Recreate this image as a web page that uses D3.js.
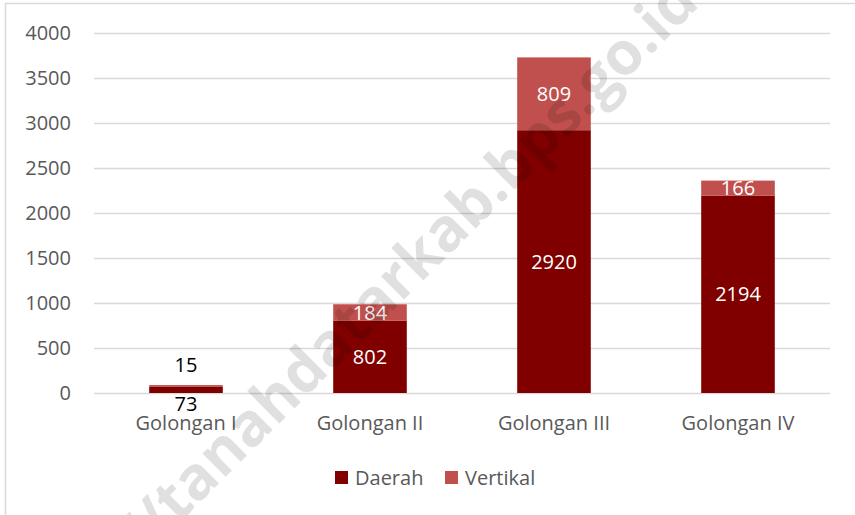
<!DOCTYPE html>
<meta charset="utf-8">
<script src="https://d3js.org/d3.v7.min.js"></script>
<style>
  body { margin: 0; background: #fff; }
  text { font-family: "Open Sans", "Noto Sans", sans-serif; }
</style>
<svg id="chart" width="855" height="515"></svg>
<script>

    // data
    var categories = ["Golongan I", "Golongan II", "Golongan III", "Golongan IV"];
    var daerah = [73, 802, 2920, 2194];
    var vertikal = [15, 184, 809, 166];
    var seriesNames = ["Daerah", "Vertikal"];
    var yTicks = [0, 500, 1000, 1500, 2000, 2500, 3000, 3500, 4000];

    var colors = { Daerah: "#800000", Vertikal: "#c0504d" };

    const svg = d3.select("#chart"),
        width = +svg.attr("width"),
        height = +svg.attr("height");

    // chart border
    svg.append("rect")
        .attr("x", 5.5).attr("y", 3.5)
        .attr("width", 870).attr("height", 530)
        .attr("fill", "#fff")
        .attr("stroke", "#d9d9d9")
        .attr("stroke-width", 1.5);

    const x = d3.scaleBand()
        .domain(categories)
        .range([94, 830])
        .paddingInner(0.6)
        .paddingOuter(0.3);

    const y = d3.scaleLinear()
        .domain([0, 4000])
        .range([393, 33]);

    // gridlines + y labels
    const yAxis = svg.append("g")
        .attr("transform", "translate(94,0)")
        .call(d3.axisLeft(y).tickValues(yTicks).tickFormat(d3.format("d")).tickSize(-736).tickPadding(23));
    yAxis.select(".domain").remove();
    yAxis.selectAll(".tick line").attr("stroke", "#d9d9d9").attr("stroke-width", 1.5);
    yAxis.selectAll(".tick text")
        .attr("fill", "#595959")
        .style("font-size", "20px");

    // x labels
    const xAxis = svg.append("g")
        .attr("transform", "translate(0,393)")
        .call(d3.axisBottom(x).tickSize(0).tickPadding(23));
    xAxis.select(".domain").remove();
    xAxis.selectAll(".tick text")
        .attr("fill", "#595959")
        .style("font-size", "20px");

    const rows = categories.map((c, i) => ({ cat: c, Daerah: daerah[i], Vertikal: vertikal[i] }));
    const stacked = d3.stack().keys(seriesNames)(rows);

    const layers = svg.append("g")
        .selectAll("g")
        .data(stacked)
        .enter().append("g")
            .attr("fill", d => colors[d.key]);

    layers.selectAll("rect")
        .data(d => d)
        .enter().append("rect")
            .attr("x", d => x(d.data.cat))
            .attr("width", x.bandwidth())
            .attr("y", d => y(d[1]))
            .attr("height", d => y(d[0]) - y(d[1]));

    // data labels
    stacked.forEach(function(layer) {
        layer.forEach(function(d) {
            var h = y(d[0]) - y(d[1]);
            var cx = x(d.data.cat) + x.bandwidth() / 2;
            var ty, fill = "#fff";
            if (h < 8) {
                // too thin: label outside the bar
                fill = "#000";
                ty = layer.key === "Daerah" ? y(d[0]) + 11 : y(d[1]) - 20;
            } else {
                ty = (y(d[0]) + y(d[1])) / 2;
            }
            svg.append("text")
                .attr("x", cx)
                .attr("y", ty)
                .attr("dy", "0.35em")
                .attr("text-anchor", "middle")
                .attr("fill", fill)
                .style("font-size", "20px")
                .text(d.data[layer.key]);
        });
    });

    // legend
    var legendX = [335, 445];
    seriesNames.forEach(function(name, i) {
        svg.append("rect")
            .attr("x", legendX[i]).attr("y", 471)
            .attr("width", 13).attr("height", 13)
            .attr("fill", colors[name]);
        svg.append("text")
            .attr("x", legendX[i] + 20)
            .attr("y", 478)
            .attr("dy", "0.35em")
            .attr("fill", "#595959")
            .style("font-size", "20px")
            .text(name);
    });

    // watermark
    const wm = svg.append("g")
        .attr("transform", "translate(178,524) rotate(-44.8)")
        .attr("fill", "#000")
        .attr("fill-opacity", 0.12)
        .style("font-size", "60px")
        .style("font-weight", "bold");
    wm.append("text")
        .text("tanahdatarkab.bps.go.id");
    wm.append("text")
        .attr("text-anchor", "end")
        .text("//");

</script>
